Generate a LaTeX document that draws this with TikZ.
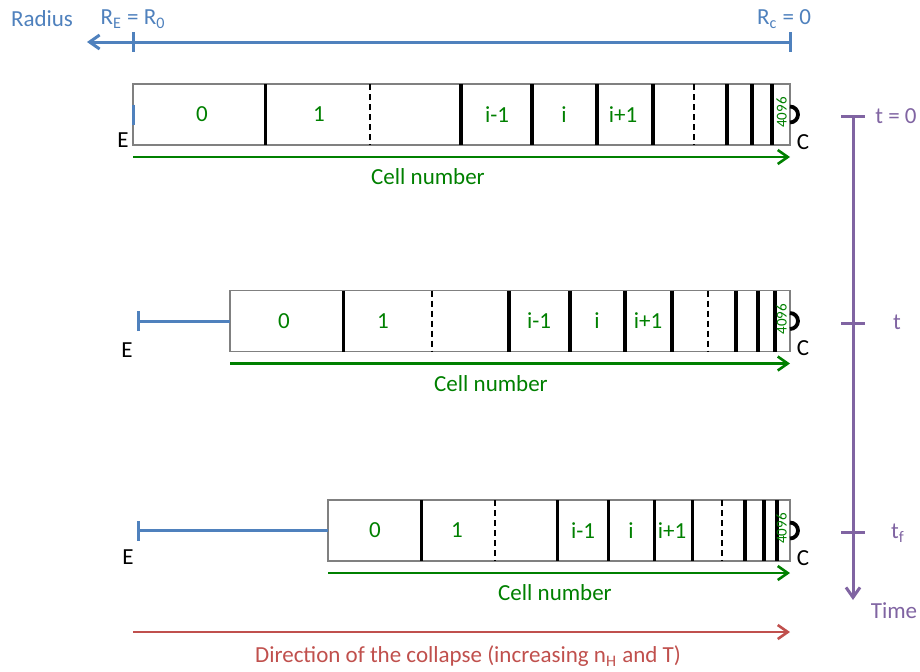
\documentclass[tikz,border=0pt]{standalone}
\usepackage{fontspec}
\setmainfont{Carlito}
\usetikzlibrary{calc}
\usetikzlibrary{arrows.meta}
\tikzset{>={Straight Barb[length=5pt,width=7pt]}}
\definecolor{radblue}{RGB}{79,129,189}
\definecolor{timeviolet}{RGB}{128,100,162}
\definecolor{cellgreen}{RGB}{0,128,0}
\definecolor{collred}{RGB}{192,80,77}
\tikzstyle{cellbox}=[draw=black!50,line width=0.8pt]
\tikzstyle{wall}=[line width=1.6pt]
\tikzstyle{dashwall}=[line width=1.4pt,dash pattern=on 3pt off 2pt]
\tikzstyle{celllabel}=[cellgreen]
\tikzstyle{lastcell}=[cellgreen,font=\fontsize{7.5}{8}\selectfont,rotate=90,inner sep=0pt]
\tikzstyle{radline}=[radblue,line width=1.5pt]
\tikzstyle{timeline}=[timeviolet,line width=1.5pt]
\tikzstyle{cellarrow}=[->,cellgreen,line width=1.3pt]
\tikzstyle{collarrow}=[->,collred,line width=1.3pt]
\newcommand\cellrow[7]{{% #1 name, #2 top y, #3 left x, #4 walls, #5 dashed walls, #6 labels, #7 x of caption
  \pgfmathsetmacro\ybot{#2+61}
  \pgfmathsetmacro\ymid{#2+30.5}
  \coordinate (#1-nw) at (#3,#2);
  \coordinate (#1-se) at (790,\ybot);
  \coordinate (#1-w) at (#3,\ymid);
  \coordinate (#1-e) at (790,\ymid);
  \draw[cellbox] (#1-nw) rectangle (#1-se);
  \foreach \x in {#4} \draw[wall] (\x,#2) -- (\x,\ybot);
  \foreach \x in {#5} \draw[dashwall] (\x,#2) -- (\x,\ybot);
  \foreach \x/\t [count=\k] in {#6} \node[celllabel] (#1-l\k) at (\x,\ymid) {\t};
  \node[lastcell] (#1-last) at (781.5,\ymid-2) {4096};
  \draw[line width=1.9pt] ($(#1-e)+(0,-8)$) arc(-90:90:8); % centre end
  \node (#1-C) at ($(#1-se)+(13,-3)$) {C};
  \coordinate (#1-as) at (#3,#2+73); % start of cell arrow
  \coordinate (#1-ae) at (790,#2+73);
  \draw[cellarrow] (#1-as) -- (#1-ae);
  \node[cellgreen] (#1-cap) at (#7,#2+93) {Cell number};
}}

\begin{document}
\begin{tikzpicture}[x=0.5pt,y=-0.5pt,font=\fontsize{11.5}{13}\selectfont]
  \useasboundingbox (0,0) rectangle (920,671);

  % RADIUS AXIS
  \coordinate (RE) at (133,42); % edge
  \coordinate (RC) at (790,42); % centre
  \coordinate (Rend) at (87,42);
  \draw[radline,->] (RC) -- (Rend);
  \draw[radline] ($(RE)+(0,-10)$) -- ($(RE)+(0,10)$);
  \draw[radline] ($(RC)+(0,-10)$) -- ($(RC)+(0,10)$);
  \node[radblue] (radius) at (42,19) {Radius};
  \node[radblue] (RElab) at (133,19) {R\textsubscript{E} = R\textsubscript{0}};
  \node[radblue] (RClab) at (784,19) {R\textsubscript{c} = 0};

  % ROWS
  \cellrow{A}{84}{133}{265.5,461,532,597,653,727,752,772}{370,694}
    {202/0,319/1,497/i-1,564/i,623/i+1}{428}
  \cellrow{B}{290.5}{230}{343.5,509,570,625,672,736,758,775}{432,708}
    {284/0,383/1,539/i-1,597/i,648/i+1}{491}
  \cellrow{C}{500}{328}{421.5,557.5,608.5,654.5,692.5,745,764,777}{495,722}
    {375/0,457/1,583/i-1,631/i,672/i+1}{555}

  % EDGE OF THE CLOUD
  \draw[radline] ($(A-w)+(0,-10)$) -- ($(A-w)+(0,10)$);
  \node (A-E) at (123,140) {E};
  \coordinate (B-Eb) at (137,321);
  \draw[radline,{Bar[width=10pt]}-] (B-Eb) -- (B-w);
  \node (B-E) at (127,350) {E};
  \coordinate (C-Eb) at (137,530.5);
  \draw[radline,{Bar[width=10pt]}-] (C-Eb) -- (C-w);
  \node (C-E) at (128,557) {E};

  % TIME AXIS
  \coordinate (T0) at (853,116);
  \coordinate (Tt) at (853,323);
  \coordinate (Tf) at (853,532);
  \coordinate (Tend) at (853,600);
  \draw[timeline,->] (T0) -- (Tend);
  \foreach \p in {T0,Tt,Tf}
    \draw[timeline] ($(\p)+(-12,0)$) -- ($(\p)+(12,0)$);
  \node[timeviolet] (t0lab) at (896,116) {t = 0};
  \node[timeviolet] (ttlab) at (897,322) {t};
  \node[timeviolet] (tflab) at (898,533) {t\textsubscript{f}};
  \node[timeviolet] (timelab) at (894,611) {Time};

  % COLLAPSE
  \coordinate (D0) at (133,632);
  \coordinate (D1) at (790,632);
  \draw[collarrow] (D0) -- (D1);
  \node[collred] (collab) at (468,656) {Direction of the collapse (increasing n\textsubscript{H} and T)};
\end{tikzpicture}
\end{document}
